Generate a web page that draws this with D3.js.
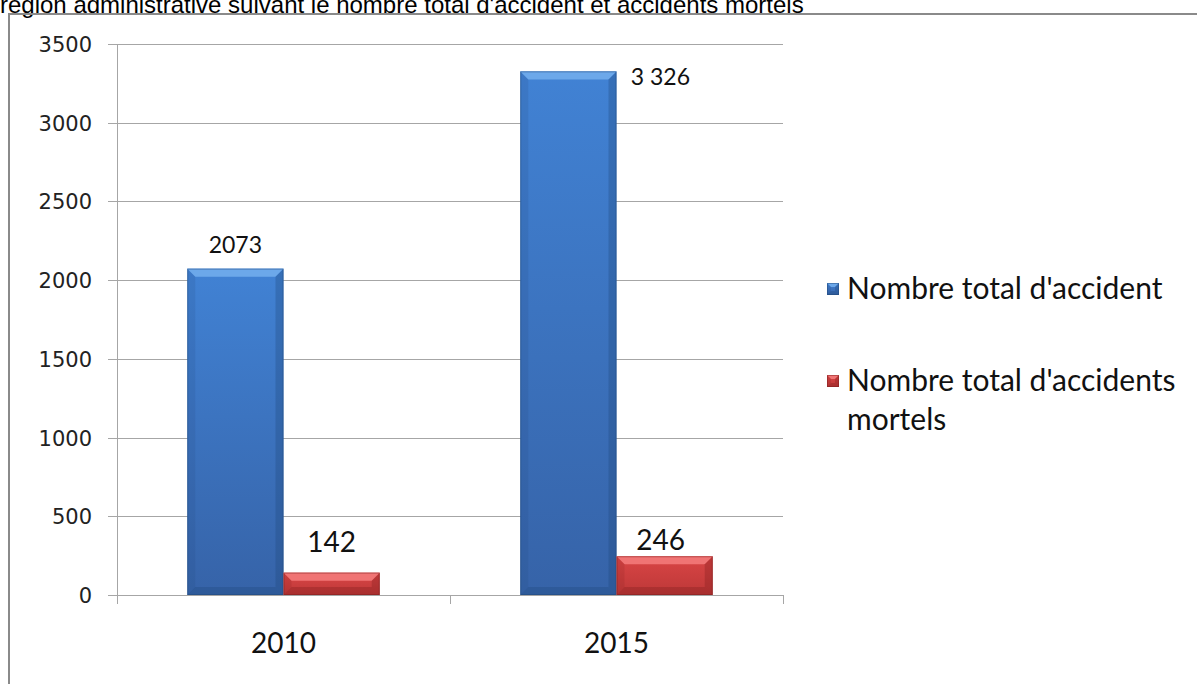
<!DOCTYPE html>
<html><head><meta charset="utf-8">
<script src="https://cdn.jsdelivr.net/npm/d3@7"></script>
<style>body{margin:0;background:#fff;overflow:hidden}</style>
</head><body>
<svg id="c" width="1197" height="684"></svg>
<script>
const title = "région administrative suivant le nombre total d'accident et accidents mortels";
const categories = ["2010", "2015"];
const seriesNames = ["Nombre total d'accident", "Nombre total d'accidents mortels"];
const totalAccidents = [2073, 3326];
const fatalAccidents = [142, 246];
const totalLabels = ["2073", "3 326"];
const fatalLabels = ["142", "246"];
const yTicks = [0, 500, 1000, 1500, 2000, 2500, 3000, 3500];

const svg = d3.select("#c");
const defs = svg.append("defs");
function grad(id, c1, c2) {
  const g = defs.append("linearGradient").attr("id", id).attr("x1", 0).attr("y1", 0).attr("x2", 0).attr("y2", 1);
  g.append("stop").attr("offset", "0%").attr("stop-color", c1);
  g.append("stop").attr("offset", "100%").attr("stop-color", c2);
}
grad("gBlue", "#4182d4", "#3663a8");
grad("gRed", "#d94545", "#bd3838");

// title + frame
svg.append("text").attr("x", 0).attr("y", 13).attr("font-family", "Liberation Sans, Arial").attr("font-size", 24).attr("fill", "#000").text(title);
svg.append("path").attr("d", "M9,684 V14 H1197").attr("fill", "none").attr("stroke", "#8a8a8a").attr("stroke-width", 2);

const plot = {left: 117, right: 783, top: 44, bottom: 595};
const y = d3.scaleLinear().domain([0, 3500]).range([plot.bottom, plot.top]);
const x0 = d3.scaleBand().domain(categories).range([plot.left, plot.right]);
const x1 = d3.scaleBand().domain([0, 1]).range([0, x0.bandwidth()]).paddingOuter(0.73).paddingInner(0);

// gridlines
svg.append("g").selectAll("line").data(yTicks).join("line")
  .attr("x1", plot.left - 9).attr("x2", plot.right)
  .attr("y1", d => Math.round(y(d)) + 0.5).attr("y2", d => Math.round(y(d)) + 0.5)
  .attr("stroke", "#a6a6a6").attr("stroke-width", 1);
svg.append("line").attr("x1", plot.left + 0.5).attr("x2", plot.left + 0.5).attr("y1", plot.top).attr("y2", plot.bottom).attr("stroke", "#a6a6a6");
svg.append("g").selectAll("text").data(yTicks).join("text")
  .attr("x", 92).attr("y", d => y(d) + 8).attr("text-anchor", "end")
  .attr("font-family", "DejaVu Sans").attr("font-size", 21).attr("fill", "#222").text(d => d);
const xt = [plot.left, ...categories.map(c => x0(c) + x0.bandwidth())];
svg.append("g").selectAll("line").data(xt).join("line")
  .attr("x1", d => Math.round(d) + 0.5).attr("x2", d => Math.round(d) + 0.5)
  .attr("y1", plot.bottom).attr("y2", plot.bottom + 9).attr("stroke", "#a6a6a6");
svg.append("g").selectAll("text").data(categories).join("text")
  .attr("x", d => x0(d) + x0.bandwidth() / 2).attr("y", 653).attr("text-anchor", "middle")
  .attr("font-family", "Lato, Open Sans").attr("font-size", 28).attr("fill", "#111").text(d => d);

function bevelBar(g, xL, w, yT, yB, gradId, light, dark, b0) {
  const b = Math.min(b0, (yB - yT) / 2);
  g.append("rect").attr("x", xL).attr("y", yT).attr("width", w).attr("height", yB - yT).attr("fill", `url(#${gradId})`);
  g.append("polygon").attr("points", `${xL},${yT} ${xL + w},${yT} ${xL + w - b},${yT + b} ${xL + b},${yT + b}`).attr("fill", light);
  g.append("polygon").attr("points", `${xL},${yT} ${xL + b},${yT + b} ${xL + b},${yB - b} ${xL},${yB}`).attr("fill", dark).attr("opacity", 0.15);
  g.append("polygon").attr("points", `${xL + w},${yT} ${xL + w - b},${yT + b} ${xL + w - b},${yB - b} ${xL + w},${yB}`).attr("fill", dark).attr("opacity", 0.3);
  g.append("polygon").attr("points", `${xL},${yB} ${xL + b},${yB - b} ${xL + w - b},${yB - b} ${xL + w},${yB}`).attr("fill", dark).attr("opacity", 0.3);
  g.append("rect").attr("x", xL + 0.5).attr("y", yT + 0.5).attr("width", w - 1).attr("height", yB - yT - 1).attr("fill", "none").attr("stroke", dark).attr("stroke-opacity", 0.45);
}

const series = [
  {vals: totalAccidents, grad: "gBlue", light: "#6ca8ea", dark: "#1f4678"},
  {vals: fatalAccidents, grad: "gRed", light: "#f07474", dark: "#7a1c1c"}
];
const bars = svg.append("g");
series.forEach((s, si) => {
  categories.forEach((c, ci) => {
    const xL = x0(c) + x1(si);
    bevelBar(bars, xL, x1.bandwidth(), y(s.vals[ci]), y(0), s.grad, s.light, s.dark, 8);
  });
});

// value labels
const lab = svg.append("g").attr("font-family", "Lato, Open Sans").attr("fill", "#111");
const blueX = categories.map(c => x0(c) + x1(0) + x1.bandwidth() / 2);
const redX = categories.map(c => x0(c) + x1(1) + x1.bandwidth() / 2);
lab.append("text").attr("x", blueX[0]).attr("y", y(totalAccidents[0]) - 16).attr("text-anchor", "middle").attr("font-size", 23).text(totalLabels[0]);
lab.append("text").attr("x", blueX[1] + 92).attr("y", y(totalAccidents[1]) + 14).attr("text-anchor", "middle").attr("font-size", 23).text(totalLabels[1]);
lab.append("text").attr("x", redX[0]).attr("y", y(fatalAccidents[0]) - 21).attr("text-anchor", "middle").attr("font-size", 28).text(fatalLabels[0]);
lab.append("text").attr("x", redX[1] - 4).attr("y", y(fatalAccidents[1]) - 6).attr("text-anchor", "middle").attr("font-size", 28).text(fatalLabels[1]);

// legend
const leg = svg.append("g").attr("font-family", "Lato, Open Sans").attr("font-size", 30).attr("fill", "#111");
const legY = [283, 375];
series.forEach((s, i) => {
  bevelBar(leg, 827, 12, legY[i], legY[i] + 12, s.grad, s.light, s.dark, 4);
});
leg.append("text").attr("x", 847).attr("y", 299).text(seriesNames[0]);
const t2 = leg.append("text").attr("x", 847).attr("y", 391);
t2.append("tspan").text("Nombre total d'accidents");
t2.append("tspan").attr("x", 847).attr("dy", 39).text("mortels");
</script>
</body></html>
